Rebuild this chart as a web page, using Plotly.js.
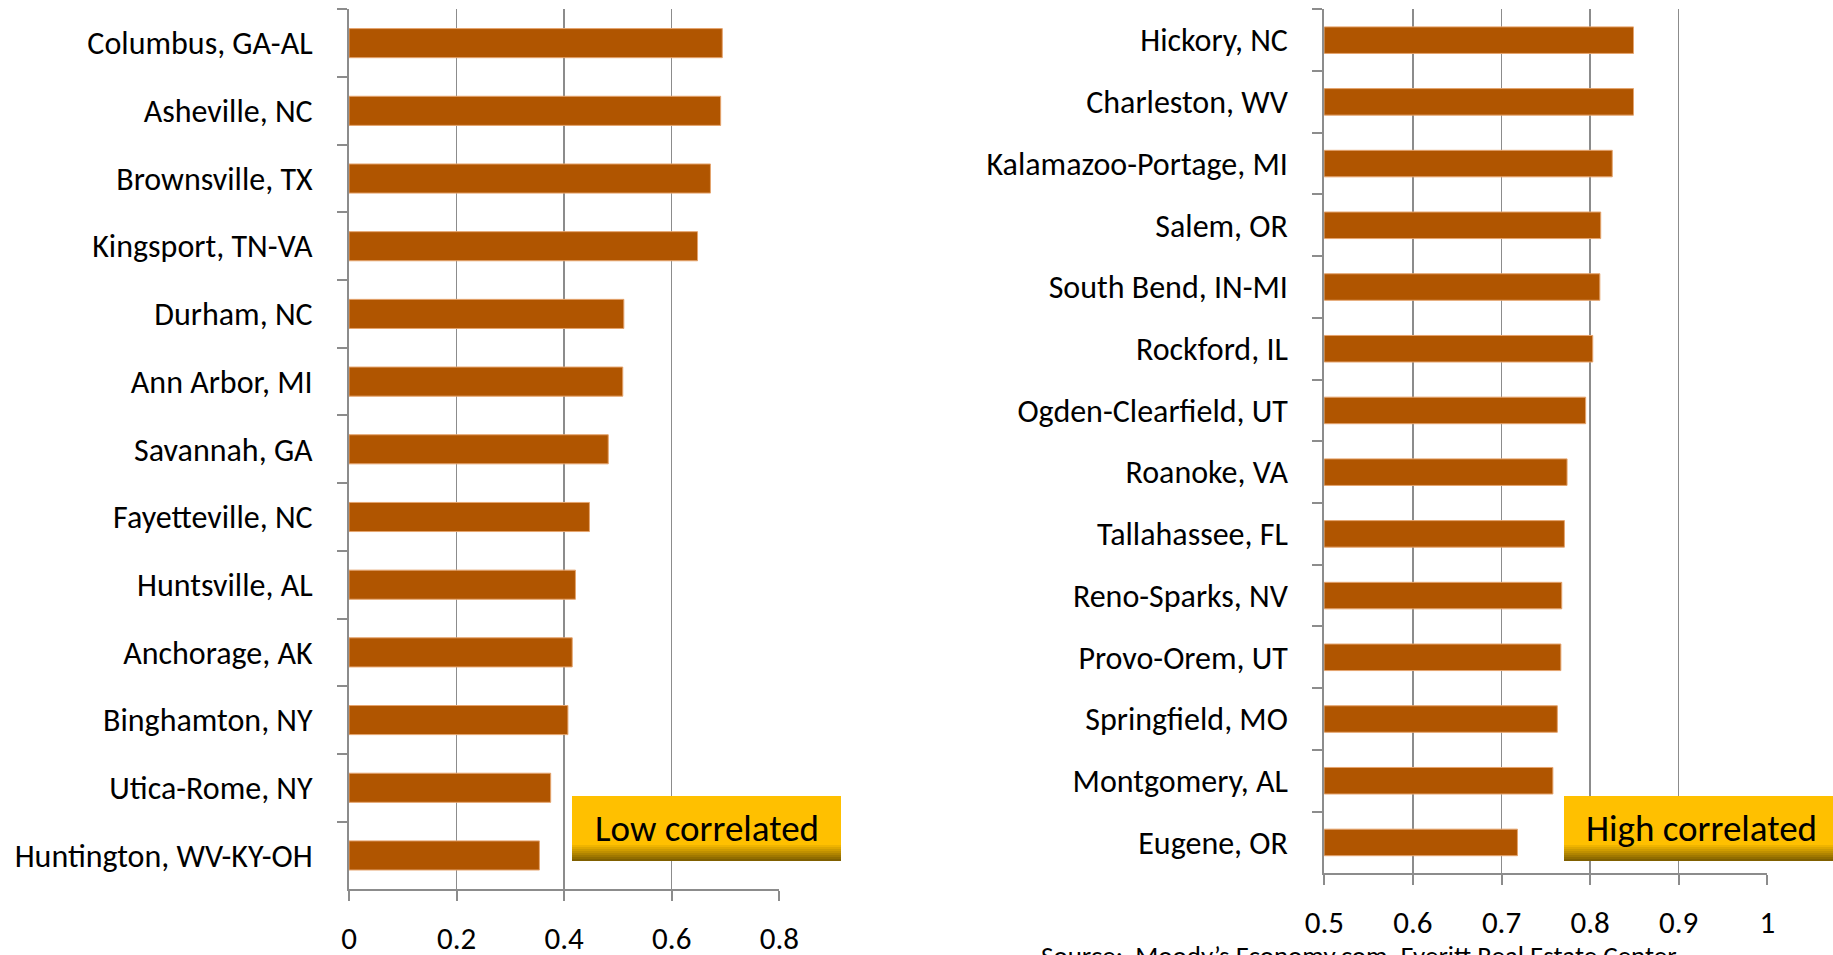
<!DOCTYPE html>
<html>
<head>
<meta charset="utf-8">
<script src="https://cdn.plot.ly/plotly-3.0.1.min.js"></script>
<style>
html,body{margin:0;padding:0;background:#fff;}
#chart{width:1833px;height:955px;}
</style>
</head>
<body>
<div id="chart"></div>
<script>
// ---- Data ----
const lowCities = ["Columbus, GA-AL","Asheville, NC","Brownsville, TX","Kingsport, TN-VA","Durham, NC","Ann Arbor, MI","Savannah, GA","Fayetteville, NC","Huntsville, AL","Anchorage, AK","Binghamton, NY","Utica-Rome, NY","Huntington, WV-KY-OH"];
const lowValues = [0.694,0.691,0.672,0.648,0.511,0.509,0.482,0.447,0.421,0.415,0.407,0.375,0.354];

const highCities = ["Hickory, NC","Charleston, WV","Kalamazoo-Portage, MI","Salem, OR","South Bend, IN-MI","Rockford, IL","Ogden-Clearfield, UT","Roanoke, VA","Tallahassee, FL","Reno-Sparks, NV","Provo-Orem, UT","Springfield, MO","Montgomery, AL","Eugene, OR"];
const highValues = [0.849,0.849,0.825,0.812,0.811,0.803,0.795,0.774,0.771,0.768,0.767,0.763,0.758,0.718];

const lowLabel = "Low correlated";
const highLabel = "High correlated";
const sourceText = "Source:  Moody\u2019s Economy.com, Everitt Real Estate Center";

// ---- Styling ----
const W = 1833, H = 955;
const FONT = "Carlito, Calibri, Lato, 'Open Sans', sans-serif";
const barColor = "#B05500";
const barEdge = "#E5A46E";
const gridColor = "#8C8C8C";
const px = v => v / W;
const py = v => 1 - v / H;

const traces = [
  {type:"bar", orientation:"h", y:lowCities, x:lowValues, xaxis:"x", yaxis:"y",
   marker:{color:barColor, line:{color:barEdge, width:1}}, hoverinfo:"x+y"},
  {type:"bar", orientation:"h", y:highCities, x:highValues, xaxis:"x2", yaxis:"y2",
   marker:{color:barColor, line:{color:barEdge, width:1}}, hoverinfo:"x+y"}
];

function xAxis(domain, range, dtick, anchor){
  return {domain:domain, range:range, dtick:dtick, tick0:0, anchor:anchor,
    showgrid:true, gridcolor:gridColor, gridwidth:1.5, zeroline:false,
    showline:true, linecolor:gridColor, linewidth:2,
    ticks:"outside", ticklen:10, tickwidth:2, tickcolor:gridColor,
    ticklabelstandoff:10,
    tickfont:{family:FONT, size:31, color:"#000"}, fixedrange:true};
}
function yAxis(domain, anchor){
  return {domain:domain, anchor:anchor, type:"category", autorange:"reversed",
    showgrid:false, zeroline:false, showline:true, linecolor:gridColor, linewidth:2,
    ticks:"outside", ticklen:10, tickwidth:2, tickcolor:gridColor, tickson:"boundaries",
    ticklabelstandoff:28,
    tickfont:{family:FONT, size:32, color:"#000"}, fixedrange:true};
}

// gradient boxes built from strips
function gradBox(x0, x1, y0, y1){
  const shapes = [];
  const gradStart = y1 - 16;
  shapes.push({type:"rect", xref:"paper", yref:"paper", x0:px(x0), x1:px(x1), y0:py(gradStart), y1:py(y0),
    fillcolor:"#FFC000", line:{width:0}, layer:"above"});
  const n = 8;
  for(let i=0;i<n;i++){
    const t = (i+1)/n;
    const r = Math.round(255 + (128-255)*t);
    const g = Math.round(192 + (96-192)*t);
    const b = 0;
    const ya = gradStart + (y1-gradStart)*i/n;
    const yb = gradStart + (y1-gradStart)*(i+1)/n + 0.5;
    shapes.push({type:"rect", xref:"paper", yref:"paper", x0:px(x0), x1:px(x1), y0:py(Math.min(yb,y1)), y1:py(ya),
      fillcolor:`rgb(${r},${g},${b})`, line:{width:0}, layer:"above"});
  }
  return shapes;
}

const layout = {
  width:W, height:H, autosize:false,
  margin:{l:0,r:0,t:0,b:0},
  paper_bgcolor:"#fff", plot_bgcolor:"rgba(0,0,0,0)",
  showlegend:false, bargap:0.57,
  font:{family:FONT, color:"#000"},
  xaxis: xAxis([px(349), px(779.3)], [0,0.8], 0.2, "y"),
  yaxis: yAxis([py(889.3), py(9.3)], "x"),
  xaxis2: xAxis([px(1324.3), px(1767.3)], [0.5,1.0], 0.1, "y2"),
  yaxis2: yAxis([py(873.3), py(9.3)], "x2"),
  shapes: [].concat(gradBox(572, 841, 796, 861), gradBox(1564, 1840, 796, 861)),
  annotations: [
    {text:lowLabel, xref:"paper", yref:"paper", x:px(706.5), y:py(828), xanchor:"center", yanchor:"middle",
     showarrow:false, font:{family:FONT, size:37, color:"#000"}},
    {text:highLabel, xref:"paper", yref:"paper", x:px(1701), y:py(828), xanchor:"center", yanchor:"middle",
     showarrow:false, font:{family:FONT, size:37, color:"#000"}},
    {text:sourceText, xref:"paper", yref:"paper", x:px(1039), y:py(937), xanchor:"left", yanchor:"top",
     showarrow:false, font:{family:FONT, size:27, color:"#000"}}
  ]
};

Plotly.newPlot("chart", traces, layout, {displayModeBar:false, staticPlot:true});
</script>
</body>
</html>
